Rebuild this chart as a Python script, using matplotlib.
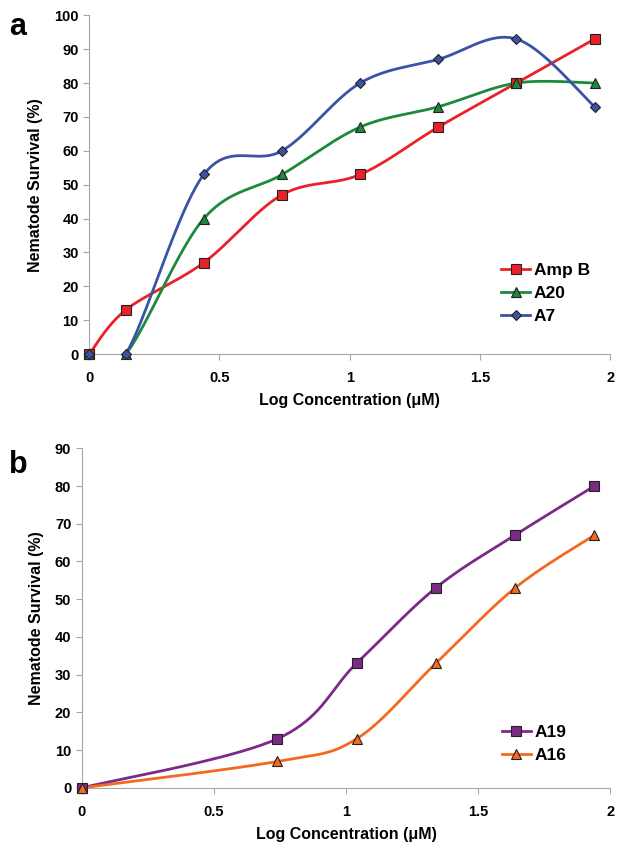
import numpy as np
import matplotlib
matplotlib.use('Agg')
from matplotlib import pyplot as plt
from matplotlib.lines import Line2D

plt.rcParams['font.family'] = ['Liberation Sans', 'DejaVu Sans']
plt.rcParams['font.weight'] = 'bold'

# panel a
x_a = [0, 0.14, 0.44, 0.74, 1.04, 1.34, 1.64, 1.94]
ampb = [0, 13, 27, 47, 53, 67, 80, 93]
a20 = [0, 0, 40, 53, 67, 73, 80, 80]
a7 = [0, 0, 53, 60, 80, 87, 93, 73]

# panel b
x_b = [0, 0.74, 1.04, 1.34, 1.64, 1.94]
a19 = [0, 13, 33, 53, 67, 80]
a16 = [0, 7, 13, 33, 53, 67]

x_ticks = [0, 0.5, 1, 1.5, 2]
x_ticklabels = ['0', '0.5', '1', '1.5', '2']


def smooth(x, y, n=40):
    # excel-like smoothed line (catmull-rom as bezier)
    pts = np.column_stack([x, y]).astype(float)
    p = np.vstack([pts[0], pts, pts[-1]])
    t = np.linspace(0, 1, n)[:, None]
    out = []
    for i in range(1, len(p) - 2):
        p0, p1, p2, p3 = p[i - 1], p[i], p[i + 1], p[i + 2]
        c1 = p1 + (p2 - p0) / 6
        c2 = p2 - (p3 - p1) / 6
        seg = (1 - t)**3 * p1 + 3 * (1 - t)**2 * t * c1 + 3 * (1 - t) * t**2 * c2 + t**3 * p2
        out.append(seg)
    s = np.vstack(out)
    return s[:, 0], s[:, 1]


def style_axes(ax, ymax, ystep):
    ax.set_xlim(0, 2)
    ax.set_ylim(0, ymax)
    ax.set_xticks(x_ticks)
    ax.set_xticklabels(x_ticklabels)
    ax.set_yticks(np.arange(0, ymax + 1, ystep))
    for s in ['top', 'right']:
        ax.spines[s].set_visible(False)
    for s in ['left', 'bottom']:
        ax.spines[s].set_color('#a6a6a6')
        ax.spines[s].set_linewidth(0.8)
    ax.tick_params(colors='#a6a6a6', labelcolor='black', labelsize=10.5, length=4, width=0.8)
    ax.tick_params(axis='x', pad=8)
    for lab in ax.get_xticklabels() + ax.get_yticklabels():
        lab.set_fontweight('bold')
    ax.set_xlabel('Log Concentration (\u03bcM)', fontsize=11.5, fontweight='bold', labelpad=6)
    ax.set_ylabel('Nematode Survival (%)', fontsize=11.5, fontweight='bold', labelpad=8)


def draw(ax, x, y, color, marker, ms, label):
    sx, sy = smooth(x, y)
    ax.plot(sx, sy, color=color, lw=2)
    ax.plot(x, y, linestyle='none', marker=marker, ms=ms, mfc=color, mec='#222222',
            mew=0.8, clip_on=False, zorder=3)
    return Line2D([], [], color=color, lw=2, marker=marker, ms=ms, mfc=color,
                  mec='#222222', mew=0.8, label=label)


fig = plt.figure(figsize=(6.24, 8.49), dpi=100)

ax1 = fig.add_axes([0.143, 0.583, 0.835, 0.399])
h1 = [draw(ax1, x_a, ampb, '#ea2228', 's', 7.5, 'Amp B'),
      draw(ax1, x_a, a20, '#1b8a3c', '^', 7, 'A20'),
      draw(ax1, x_a, a7, '#3b53a4', 'D', 5.5, 'A7')]
style_axes(ax1, 100, 10)
ax1.legend(handles=h1, loc='center left', bbox_to_anchor=(0.76, 0.18), frameon=False,
           prop={'weight': 'bold', 'size': 12.5}, handlelength=1.7, handletextpad=0.2,
           labelspacing=0.45)
fig.text(0.014, 0.968, 'a', fontsize=22, fontweight='bold', va='center')

ax2 = fig.add_axes([0.131, 0.072, 0.847, 0.400])
h2 = [draw(ax2, x_b, a19, '#7b2a85', 's', 7.5, 'A19'),
      draw(ax2, x_b, a16, '#f26a21', '^', 7, 'A16')]
style_axes(ax2, 90, 10)
ax2.legend(handles=h2, loc='center left', bbox_to_anchor=(0.765, 0.13), frameon=False,
           prop={'weight': 'bold', 'size': 12.5}, handlelength=1.7, handletextpad=0.2,
           labelspacing=0.45)
fig.text(0.014, 0.452, 'b', fontsize=22, fontweight='bold', va='center')

fig.savefig('out.png', dpi=100)
